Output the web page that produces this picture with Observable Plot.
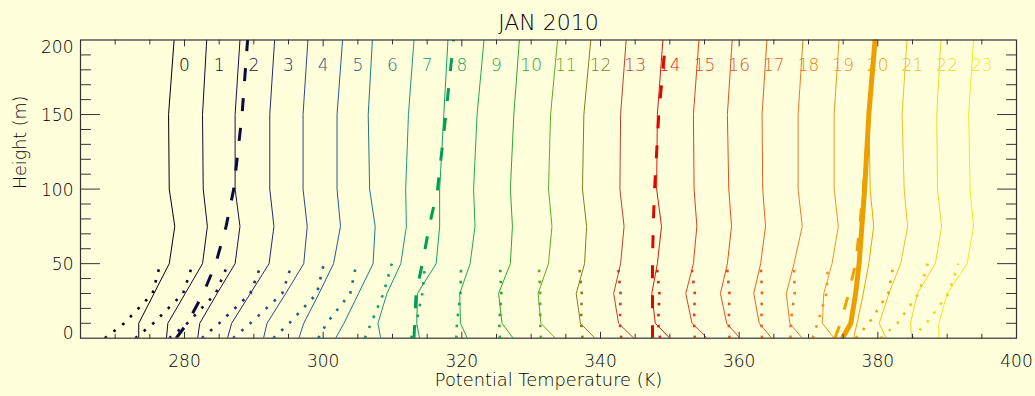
<!DOCTYPE html>
<html>
<head>
<meta charset="utf-8">
<script src="https://cdn.jsdelivr.net/npm/d3@7"></script>
<script src="https://cdn.jsdelivr.net/npm/@observablehq/plot@0.6"></script>
<style>
  html, body { margin: 0; padding: 0; background: #FFFFDC; }
  #chart svg { display: block; }
</style>
</head>
<body>
<div id="chart"></div>
<script>
// Hourly potential-temperature profiles, January 2010.
// Each hour's profile is shifted by 5 K so the 24 curves sit side by side.
const hourLabels = ["0","1","2","3","4","5","6","7","8","9","10","11",
                    "12","13","14","15","16","17","18","19","20","21","22","23"];

// Tower measurement heights (m)
const levels = [0, 10, 30, 50, 75, 100, 150, 200];
// Near-surface measurement heights (m)
const surfaceLevels = [0, 10, 30, 50];

// Tower profiles, one row per hour, values at `levels` (K, shifted)
const towerTheta = [
  [273.4, 273.4, 275.6, 277.8, 278.6, 277.8, 277.7, 278.5],
  [277.4, 277.6, 280.1, 282.6, 283.3, 282.7, 282.6, 283.2],
  [281.9, 282.2, 284.7, 287.3, 288.0, 287.3, 287.3, 288.0],
  [286.2, 286.8, 289.5, 292.2, 292.9, 292.3, 292.3, 293.0],
  [291.4, 291.9, 294.6, 297.2, 297.7, 297.1, 297.1, 297.8],
  [296.5, 297.2, 299.4, 301.5, 302.5, 302.0, 302.0, 302.8],
  [301.8, 303.0, 305.1, 307.2, 307.5, 306.7, 306.5, 307.1],
  [308.3, 307.9, 309.2, 311.2, 312.0, 311.9, 312.3, 313.1],
  [313.9, 313.5, 313.6, 316.3, 316.8, 316.8, 317.4, 318.0],
  [320.8, 319.8, 319.7, 321.2, 321.9, 321.7, 322.2, 323.2],
  [327.4, 325.8, 325.3, 327.0, 327.3, 327.0, 327.5, 328.3],
  [333.5, 331.4, 331.0, 332.5, 333.0, 332.5, 332.8, 333.8],
  [339.2, 337.1, 336.5, 337.7, 338.0, 337.4, 337.6, 338.6],
  [344.8, 342.6, 341.9, 342.9, 343.4, 342.8, 342.9, 343.7],
  [350.0, 347.9, 347.4, 348.2, 348.8, 348.1, 348.2, 349.0],
  [355.4, 353.2, 352.3, 353.4, 353.9, 353.5, 353.4, 354.2],
  [360.1, 358.2, 357.3, 358.3, 358.9, 358.5, 358.3, 359.0],
  [364.7, 362.9, 362.1, 363.1, 363.8, 363.4, 363.3, 364.0],
  [369.1, 367.3, 366.8, 367.9, 369.1, 368.5, 368.5, 369.2],
  [373.7, 372.0, 372.2, 373.4, 374.3, 373.7, 373.7, 374.4],
  [376.5, 377.0, 377.9, 378.7, 379.4, 378.9, 378.7, 379.4],
  [381.2, 380.2, 381.6, 383.3, 384.3, 383.8, 383.5, 384.2],
  [384.9, 384.7, 385.7, 388.3, 389.2, 388.6, 388.5, 389.1],
  [388.8, 388.8, 390.0, 392.9, 393.8, 393.3, 393.1, 393.8]
];

// Near-surface profiles for hours 0-22, values at `surfaceLevels` (K, shifted)
const surfaceTheta = [
  [268.5, 271.3, 275.4, 276.5],
  [272.9, 275.5, 279.8, 281.2],
  [277.8, 280.4, 284.5, 286.3],
  [282.5, 285.0, 289.5, 291.1],
  [287.0, 289.5, 294.1, 295.5],
  [292.8, 295.1, 299.1, 300.1],
  [299.3, 300.5, 303.9, 304.8],
  [306.0, 306.9, 308.7, 309.9],
  [312.7, 313.4, 314.3, 314.7],
  [319.2, 319.3, 319.8, 319.9],
  [325.5, 325.4, 325.7, 325.5],
  [331.4, 331.3, 331.3, 331.1],
  [337.4, 337.2, 337.3, 336.9],
  [343.0, 342.8, 342.9, 342.5],
  [348.6, 348.3, 348.5, 348.1],
  [353.6, 353.5, 353.6, 353.1],
  [358.6, 358.5, 358.6, 358.2],
  [363.3, 363.2, 363.3, 363.1],
  [367.4, 367.4, 368.0, 367.9],
  [370.6, 371.3, 372.6, 372.8],
  [376.8, 378.7, 381.5, 382.3],
  [380.4, 382.8, 385.9, 387.2],
  [384.9, 387.0, 390.2, 391.6]
];

// Model profiles every six hours, values at `levels` (K, shifted)
const modelHours = [2, 8, 14, 20];
const modelTheta = [
  [278.8, 280.4, 282.7, 284.5, 286.0, 287.1, 288.3, 289.1],
  [313.1, 313.2, 313.4, 314.3, 315.3, 316.5, 317.7, 318.8],
  [347.5, 347.5, 347.5, 347.5, 347.6, 347.8, 348.4, 349.4],
  [373.8, 374.6, 375.8, 376.8, 377.4, 377.9, 378.7, 379.5]
];

// Reference profile at hour 20, values at `levels` (K, shifted)
const referenceTheta = [374.9, 376.1, 376.8, 377.3, 377.7, 378.1, 378.7, 379.6];

const hourColors = [
  "#000000", "#0c0c2c", "#121248", "#1e2c6c", "#2c4a84", "#1f5e88",
  "#1b7882", "#1c977a", "#12a062", "#22a84c", "#2fa532", "#5ea82c",
  "#8a7a1a", "#c0402c", "#d61c12", "#e0401e", "#e1501c", "#e5621a",
  "#ec7a24", "#f09426", "#eea400", "#f2c022", "#f4d422", "#f7e61c"
];
const modelColors = ["#0a0a3c", "#00a052", "#d80a00", "#f0a200"];
const referenceColor = "#eca000";

// Axis ticks and labels
const xLabelTicks = [280, 300, 320, 340, 360, 380, 400];
const xMinorTicks = d3.range(270, 400, 5).filter(v => v % 20 !== 0);
const xMajorTicks = [280, 300, 320, 340, 360, 380];
const yLabelTicks = [0, 50, 100, 150, 200];
const yMajorTicks = [50, 100, 150];
const yMinorTicks = d3.range(10, 200, 10).filter(v => v % 50 !== 0);

const axisInk = "#333333";
const textInk = "#000000";
const font = "'DejaVu Sans', sans-serif";
const weight = 200;

// Tidy rows
const towerRows = towerTheta.flatMap((p, hour) =>
  p.map((theta, j) => ({hour, theta, height: levels[j]})));
const surfaceRows = surfaceTheta.flatMap((p, hour) =>
  p.map((theta, j) => ({hour, theta, height: surfaceLevels[j]})));
const modelRows = modelTheta.flatMap((p, k) =>
  p.map((theta, j) => ({series: k, theta, height: levels[j]})));
const referenceRows = referenceTheta.map((theta, j) => ({theta, height: levels[j]}));
const hourLabelRows = hourLabels.map((label, i) => ({label, hour: i, theta: 280 + 5 * i}));

// A plain straight tick drawn by the vector mark
const tickLine = {draw(context, length) { context.moveTo(0, 0); context.lineTo(0, -length); }};
const ticks = (data, channel, anchor, length, rotate) =>
  Plot.vector(data, {[channel]: d => d, frameAnchor: anchor, length, rotate,
    anchor: "start", shape: tickLine, stroke: axisInk, strokeWidth: 1});

const label = (data, options) =>
  Plot.text(data, {lineAnchor: "middle", fill: textInk, fontWeight: weight, fontSize: 17, ...options});

const chart = Plot.plot({
  width: 1035,
  height: 396,
  marginLeft: 80,
  marginRight: 19,
  marginTop: 39.5,
  marginBottom: 58.3,
  x: {domain: [265, 400], axis: null},
  y: {domain: [0, 200], axis: null},
  color: {type: "identity"},
  style: {background: "#FFFFDC", fontFamily: font, fontSize: "17px", color: textInk},
  marks: [
    // tower profiles
    Plot.line(towerRows, {x: "theta", y: "height", z: "hour",
      stroke: d => hourColors[d.hour], strokeWidth: 1, clip: true}),
    // near-surface profiles
    Plot.line(surfaceRows, {x: "theta", y: "height", z: "hour",
      stroke: d => hourColors[d.hour], strokeWidth: 2.6,
      strokeDasharray: "2.6,8.4", strokeLinecap: "butt", clip: true}),
    // model profiles
    Plot.line(modelRows, {x: "theta", y: "height", z: "series",
      stroke: d => modelColors[d.series], strokeWidth: 3,
      strokeDasharray: "13,17", strokeLinecap: "butt", clip: true}),
    // reference profile
    Plot.line(referenceRows, {x: "theta", y: "height",
      stroke: referenceColor, strokeWidth: 5, clip: true}),

    // hour labels
    label(hourLabelRows, {x: "theta", text: "label", frameAnchor: "top", dy: 26,
      fill: d => hourColors[d.hour]}),

    // frame and inward ticks on all four sides
    Plot.frame({stroke: axisInk, strokeWidth: 1.2}),
    ticks(xMinorTicks, "x", "bottom", 4, 0),
    ticks(xMajorTicks, "x", "bottom", 6, 0),
    ticks(xMinorTicks, "x", "top", 4, 180),
    ticks(xMajorTicks, "x", "top", 6, 180),
    ticks(yMinorTicks, "y", "left", 10, 90),
    ticks(yMajorTicks, "y", "left", 19, 90),
    ticks(yMinorTicks, "y", "right", 10, -90),
    ticks(yMajorTicks, "y", "right", 19, -90),

    // tick labels
    label(xLabelTicks, {x: d => d, text: d => String(d), frameAnchor: "bottom", dy: 23}),
    label(yLabelTicks.filter(v => v > 0 && v < 200), {y: d => d, text: d => String(d),
      frameAnchor: "left", textAnchor: "end", dx: -7, dy: 1}),
    label(yLabelTicks.filter(v => v === 200), {y: d => d, text: d => String(d),
      frameAnchor: "left", textAnchor: "end", dx: -7, dy: 8}),
    label(yLabelTicks.filter(v => v === 0), {y: d => d, text: d => String(d),
      frameAnchor: "left", textAnchor: "end", dx: -7, dy: -4.5}),

    // titles
    label(["JAN 2010"], {frameAnchor: "top", dy: -17, fontSize: 22}),
    label(["Potential Temperature (K)"], {frameAnchor: "bottom", dy: 42, fontSize: 17.8}),
    label(["Height (m)"], {frameAnchor: "left", dx: -60, rotate: -90, fontSize: 17.5})
  ]
});

document.getElementById("chart").append(chart);
</script>
</body>
</html>
